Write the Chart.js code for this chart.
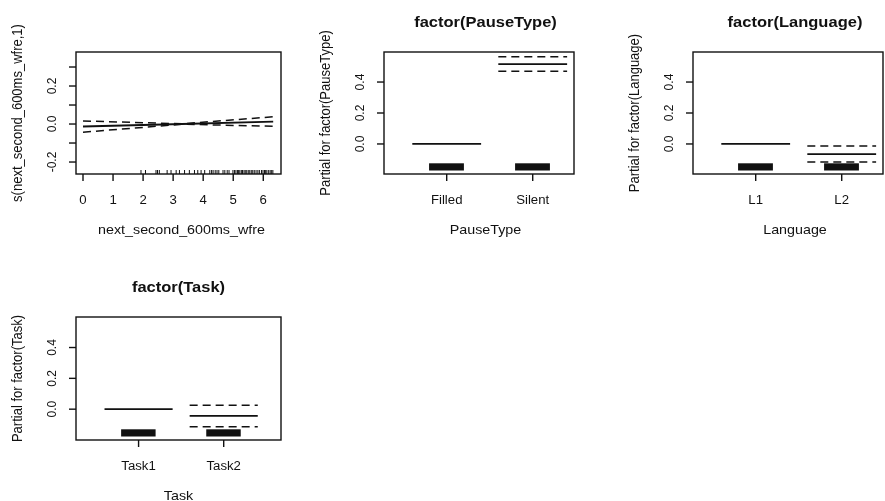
<!DOCTYPE html>
<html>
<head>
<meta charset="utf-8">
<title>GAM term plots</title>
<script src="https://cdn.jsdelivr.net/npm/chart.js@4.4.0/dist/chart.umd.min.js"></script>
<style>
  html, body { margin: 0; padding: 0; background: #fff; }
  #plots { position: relative; width: 885px; height: 501px; overflow: hidden; }
  #plots canvas { position: absolute; left: 0; top: 0; }
</style>
</head>
<body>
<div id="plots">
  <canvas id="smoothChart" width="885" height="501"></canvas>
  <canvas id="pauseChart" width="885" height="501"></canvas>
  <canvas id="languageChart" width="885" height="501"></canvas>
  <canvas id="taskChart" width="885" height="501"></canvas>
</div>
<script>
// s(next_second_600ms_wfre) : fit and +-2se bands
const smoothX = [0, 3.3, 6.33];
const smoothFit = [-0.013, 0.0, 0.013];
const smoothUpper = [0.016, 0.001, 0.038];
const smoothLower = [-0.043, -0.001, -0.012];
const smoothRug = [1.93, 2.08, 2.43, 2.48, 2.54, 2.80, 2.93, 3.10, 3.21, 3.38, 3.54, 3.71,
  3.82, 3.93, 4.05, 4.22, 4.28, 4.33, 4.40, 4.46, 4.52, 4.66, 4.72, 4.80, 4.86, 4.99,
  5.04, 5.09, 5.14, 5.18, 5.22, 5.27, 5.31, 5.36, 5.40, 5.45, 5.50, 5.55, 5.60, 5.65,
  5.70, 5.76, 5.82, 5.87, 5.94, 5.99, 6.04, 6.08, 6.12, 6.18, 6.23, 6.28, 6.32];
const smoothXTicks = [0, 1, 2, 3, 4, 5, 6];
const smoothYTicks = [-0.2, -0.1, 0.0, 0.1, 0.2, 0.3];
const smoothYLabels = [-0.2, 0.0, 0.2];

// parametric factor terms
const pauseLevels = ['Filled', 'Silent'];
const pauseFit = [0, 0.516];
const pauseUpper = [null, 0.563];
const pauseLower = [null, 0.469];

const languageLevels = ['L1', 'L2'];
const languageFit = [0, -0.065];
const languageUpper = [null, -0.013];
const languageLower = [null, -0.116];

const taskLevels = ['Task1', 'Task2'];
const taskFit = [0, -0.043];
const taskUpper = [null, 0.026];
const taskLower = [null, -0.114];

const factorYTicks = [0.0, 0.2, 0.4];

const INK = '#111';
const STRETCH = 1.1;
const FONT = '"Liberation Sans", Arial, Helvetica, sans-serif';

function rText(ctx, str, x, y, size, bold, vertical, align) {
    ctx.save();
    ctx.translate(x, y);
    ctx.scale(STRETCH, 1);
    if (vertical) ctx.rotate(-Math.PI / 2);
    ctx.font = (bold ? 'bold ' : '') + size + 'px ' + FONT;
    ctx.textAlign = align || 'center';
    ctx.textBaseline = 'alphabetic';
    ctx.fillStyle = INK;
    ctx.fillText(str, 0, 0);
    ctx.restore();
}

function fmt(v) {
    return v.toFixed(1);
}

// base-graphics style frame: box, outward ticks, rotated y labels, rug
const rFrame = {
    id: 'rFrame',
    afterDatasetsDraw(chart, args, o) {
        const ctx = chart.ctx;
        const a = chart.chartArea;
        const xs = chart.scales.x;
        const ys = chart.scales.y;
        ctx.save();
        ctx.strokeStyle = INK;
        ctx.fillStyle = INK;

        // rug ticks along the bottom
        if (o.rug) {
            ctx.lineWidth = 1;
            o.rug.forEach(v => {
                const px = xs.getPixelForValue(v);
                ctx.beginPath();
                ctx.moveTo(px, a.bottom);
                ctx.lineTo(px, a.bottom - 4);
                ctx.stroke();
            });
        }
        // jittered rug blocks for factor levels
        if (o.rugBlocks) {
            o.rugBlocks.forEach(v => {
                const x0 = xs.getPixelForValue(v - 0.205);
                const x1 = xs.getPixelForValue(v + 0.2);
                ctx.fillRect(x0, a.bottom - 10.7, x1 - x0, 7.2);
            });
        }

        ctx.lineWidth = 1.4;
        ctx.strokeRect(a.left, a.top, a.right - a.left, a.bottom - a.top);

        o.xTicks.forEach((v, i) => {
            const px = xs.getPixelForValue(v);
            ctx.beginPath();
            ctx.moveTo(px, a.bottom);
            ctx.lineTo(px, a.bottom + 7);
            ctx.stroke();
            rText(ctx, o.xLabels[i], px, a.bottom + 29.5, 12, false, false);
        });

        o.yTicks.forEach(v => {
            const py = ys.getPixelForValue(v);
            ctx.beginPath();
            ctx.moveTo(a.left, py);
            ctx.lineTo(a.left - 7, py);
            ctx.stroke();
        });
        o.yLabels.forEach(v => {
            const py = ys.getPixelForValue(v);
            rText(ctx, fmt(v), a.left - 20, py, 12, false, true);
        });

        const cx = (a.left + a.right) / 2;
        const cy = (a.top + a.bottom) / 2;
        if (o.title) rText(ctx, o.title, cx + (o.shift || 0), a.top - 25, 15, true, false);
        rText(ctx, o.xTitle, cx + (o.shift || 0) + (o.xShift || 0), a.bottom + 59.5, 13, false, false);
        rText(ctx, o.yTitle, a.left - 54, cy, 13, false, true);
        ctx.restore();
    }
};

function lineSet(points, dashed) {
    return {
        data: points,
        borderColor: INK,
        borderWidth: dashed ? 1.5 : 1.8,
        borderDash: dashed ? [8, 5] : [],
        pointRadius: 0,
        fill: false,
        tension: 0,
        spanGaps: false
    };
}

// one horizontal segment per level, broken by null gaps
function levelSegments(values) {
    const pts = [];
    values.forEach((v, i) => {
        if (v === null) return;
        pts.push({ x: i + 1 - 0.4, y: v }, { x: i + 1 + 0.4, y: v }, { x: i + 1 + 0.4, y: null });
    });
    return pts;
}

function makeChart(id, datasets, pad, xRange, yRange, frame) {
    return new Chart(document.getElementById(id), {
        type: 'line',
        data: { datasets: datasets },
        options: {
            responsive: false,
            animation: false,
            events: [],
            layout: { padding: pad },
            plugins: {
                legend: { display: false },
                tooltip: { enabled: false },
                rFrame: frame
            },
            scales: {
                x: { type: 'linear', min: xRange[0], max: xRange[1], display: false },
                y: { type: 'linear', min: yRange[0], max: yRange[1], display: false }
            }
        },
        plugins: [rFrame]
    });
}

function factorChart(id, levels, fit, upper, lower, pad, xRange, yRange, title, xTitle, yTitle, shift) {
    const ticks = levels.map((l, i) => i + 1);
    makeChart(id, [
        lineSet(levelSegments(fit), false),
        lineSet(levelSegments(upper), true),
        lineSet(levelSegments(lower), true)
    ], pad, xRange, yRange, {
        title: title,
        xTitle: xTitle,
        yTitle: yTitle,
        shift: shift,
        xTicks: ticks,
        xLabels: levels,
        yTicks: factorYTicks,
        yLabels: factorYTicks,
        rugBlocks: ticks
    });
}

const toPts = ys => smoothX.map((x, i) => ({ x: x, y: ys[i] }));

makeChart('smoothChart', [
    lineSet(toPts(smoothFit), false),
    lineSet(toPts(smoothUpper), true),
    lineSet(toPts(smoothLower), true)
], { left: 76, top: 52, right: 604, bottom: 327 }, [-0.233, 6.59], [-0.263, 0.379], {
    xTitle: 'next_second_600ms_wfre',
    yTitle: 's(next_second_600ms_wfre,1)',
    xShift: 3,
    xTicks: smoothXTicks,
    xLabels: smoothXTicks.map(String),
    yTicks: smoothYTicks,
    yLabels: smoothYLabels,
    rug: smoothRug
});

factorChart('pauseChart', pauseLevels, pauseFit, pauseUpper, pauseLower,
    { left: 384, top: 52, right: 311, bottom: 327 }, [0.271, 2.48], [-0.194, 0.594],
    'factor(PauseType)', 'PauseType', 'Partial for factor(PauseType)', 6.5);

factorChart('languageChart', languageLevels, languageFit, languageUpper, languageLower,
    { left: 693, top: 52, right: 2, bottom: 327 }, [0.271, 2.48], [-0.194, 0.594],
    'factor(Language)', 'Language', 'Partial for factor(Language)', 7);

factorChart('taskChart', taskLevels, taskFit, taskUpper, taskLower,
    { left: 76, top: 317, right: 604, bottom: 61 }, [0.265, 2.673], [-0.2, 0.598],
    'factor(Task)', 'Task', 'Partial for factor(Task)', 0);
</script>
</body>
</html>
